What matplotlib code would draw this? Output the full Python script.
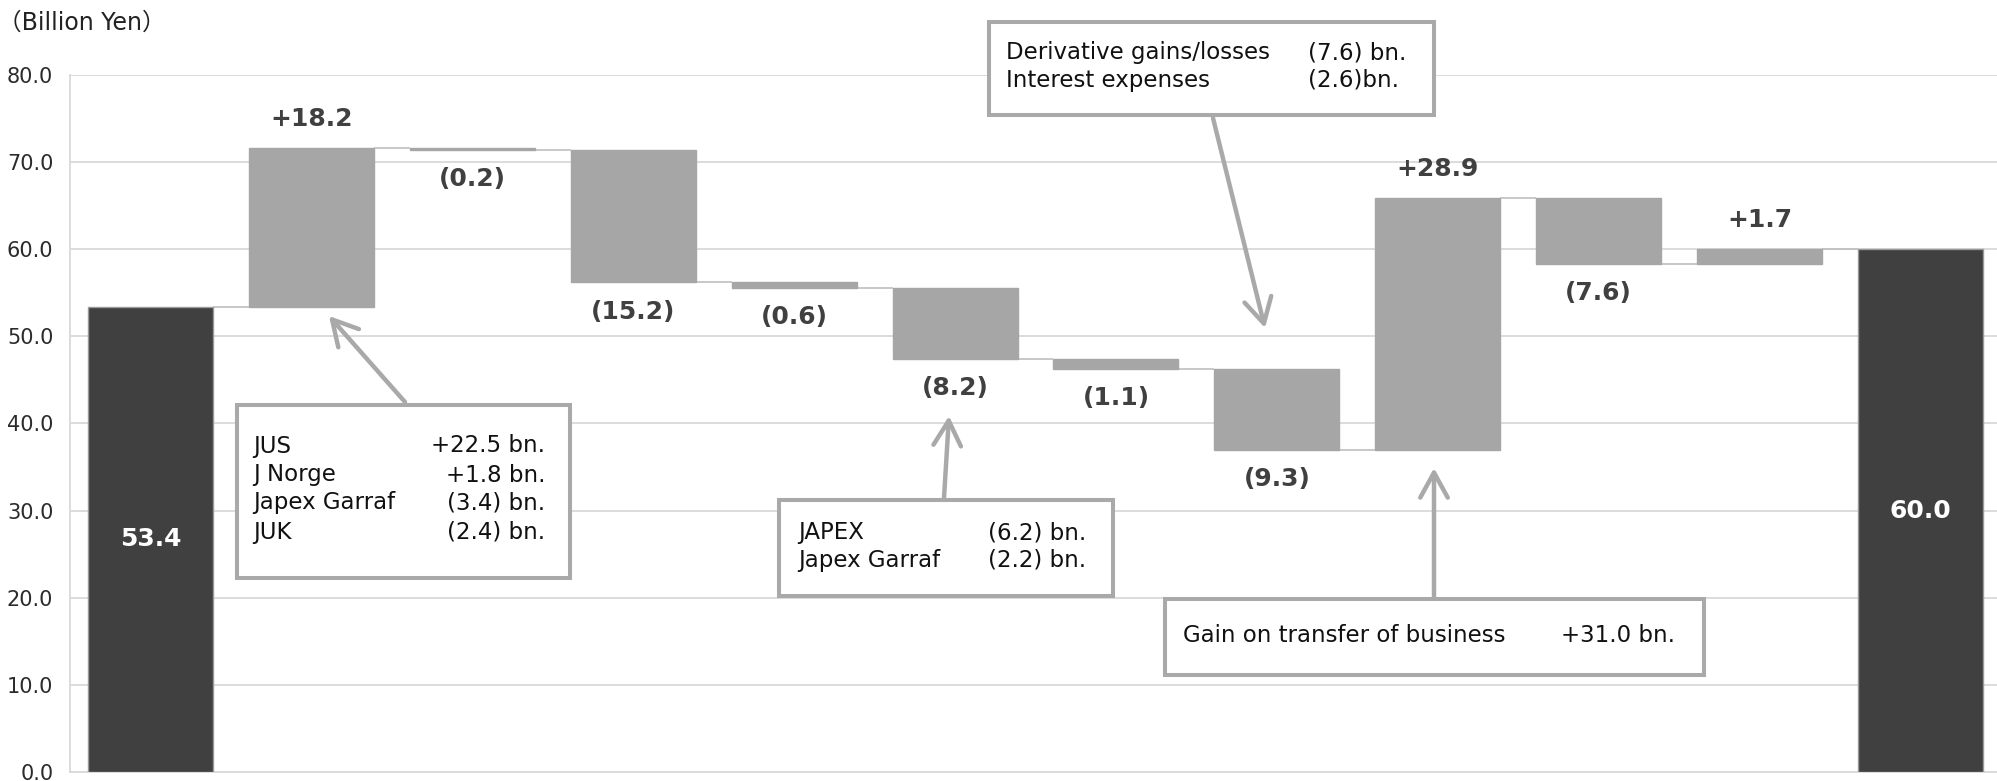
import numpy as np
import matplotlib.pyplot as plt
from matplotlib.patches import Rectangle

# ---- data -------------------------------------------------------------
start_value = 53.4
end_value = 60.0
changes = [18.2, -0.2, -15.2, -0.6, -8.2, -1.1, -9.3, 28.9, -7.6, 1.7]
y_ticks = [0, 10, 20, 30, 40, 50, 60, 70, 80]
unit_label = "（Billion Yen）"

box1_rows = [("JUS", "+22.5 bn."), ("J Norge", "+1.8 bn."),
             ("Japex Garraf", "(3.4) bn."), ("JUK", "(2.4) bn.")]
box2_rows = [("JAPEX", "(6.2) bn."), ("Japex Garraf", "(2.2) bn.")]
box3_rows = [("Derivative gains/losses", "(7.6) bn."),
             ("Interest expenses", "(2.6)bn.")]
box4_rows = [("Gain on transfer of business", "+31.0 bn.")]

# ---- styling ----------------------------------------------------------
W, H, DPI = 1997, 781, 100
DARK = "#404040"
STEP = "#a6a6a6"
GRID = "#d9d9d9"
CONNECT = "#bfbfbf"
BOX_EDGE = "#a9a9a9"
LABEL_COLOR = "#404040"

plt.rcParams["font.family"] = ["DejaVu Sans"]

fig = plt.figure(figsize=(W / DPI, H / DPI), dpi=DPI)
fig.patch.set_facecolor("white")


def fx(x):
    return x / W


def fy(y):
    return 1 - y / H


ax = fig.add_axes([fx(70), fy(772), (2001 - 70) / W, (772 - 75) / H])

# ---- waterfall geometry ----------------------------------------------
levels = np.concatenate([[start_value], start_value + np.cumsum(changes)])
n = len(changes) + 2
x = np.arange(n)
bar_w = 0.777

heights = [start_value] + [abs(c) for c in changes] + [end_value]
bottoms = [0.0] + [min(levels[i], levels[i + 1]) for i in range(len(changes))] + [0.0]
colors = [DARK] + [STEP] * len(changes) + [DARK]
edges = ["#9a9a9a"] + [STEP] * len(changes) + ["#9a9a9a"]

ax.bar(x, heights, bottom=bottoms, width=bar_w, color=colors,
       edgecolor=edges, linewidth=1.0, zorder=3)

# connectors between consecutive bars
tops_running = [start_value] + list(levels[1:]) + [end_value]
for i in range(n - 1):
    lvl = tops_running[i]
    ax.plot([x[i] + bar_w / 2, x[i + 1] - bar_w / 2], [lvl, lvl],
            color=CONNECT, lw=1.2, zorder=2, solid_capstyle="butt")

# value labels
for v, xi in zip([start_value, end_value], [x[0], x[-1]]):
    ax.text(xi, v / 2, f"{v:.1f}", ha="center", va="center", color="white",
            fontsize=18, fontweight="bold", zorder=4)

for i, c in enumerate(changes):
    xi = x[i + 1]
    if c >= 0:
        txt = f"+{c:.1f}"
        dy = 21
    else:
        txt = f"({abs(c):.1f})"
        dy = -21
    ax.annotate(txt, (xi, levels[i + 1]), xytext=(0, dy), textcoords="offset points",
                ha="center", va="center", fontsize=18, fontweight="bold",
                color=LABEL_COLOR, zorder=4)

# axes cosmetics
ax.set_xlim(-0.5, n - 0.5)
ax.set_ylim(0, 80)
ax.set_yticks(y_ticks)
ax.set_yticklabels([f"{t:.1f}" for t in y_ticks], fontsize=15, color="#2b2b2b")
ax.set_xticks([])
ax.tick_params(axis="y", length=0, pad=12)
ax.grid(axis="y", color=GRID, lw=1.3, zorder=0)
ax.set_axisbelow(True)
for side in ["top", "right"]:
    ax.spines[side].set_visible(False)
ax.spines["left"].set_color(GRID)
ax.spines["left"].set_linewidth(1.3)
ax.spines["bottom"].set_color(GRID)
ax.spines["bottom"].set_linewidth(1.3)

fig.text(fx(-2), fy(23), unit_label, ha="left", va="center", fontsize=17,
         color="#222222", family=["DejaVu Sans", "Noto Sans CJK JP"])

# ---- callout boxes ----------------------------------------------------


def callout(rect, rows, label_x, value_x, value_ha, rows_y, arrow_from, arrow_to):
    x0, y0, x1, y1 = rect
    fig.add_artist(Rectangle((fx(x0 + 2), fy(y1 - 2)), (x1 - x0 - 4) / W, (y1 - y0 - 4) / H,
                             transform=fig.transFigure, facecolor="white",
                             edgecolor=BOX_EDGE, lw=2.9, zorder=5))
    for (name, val), ry in zip(rows, rows_y):
        fig.text(fx(label_x), fy(ry), name, ha="left", va="center",
                 fontsize=16.5, color="#111111", zorder=6)
        fig.text(fx(value_x), fy(ry), val, ha=value_ha, va="center",
                 fontsize=16.5, color="#111111", zorder=6)
    ax.annotate("", xy=(fx(arrow_to[0]), fy(arrow_to[1])), xycoords="figure fraction",
                xytext=(fx(arrow_from[0]), fy(arrow_from[1])), textcoords="figure fraction",
                arrowprops=dict(arrowstyle="->,head_length=0.6,head_width=0.33",
                                color=BOX_EDGE, lw=3.2, mutation_scale=30,
                                shrinkA=0, shrinkB=0),
                zorder=6)


callout((235, 403, 572, 580), box1_rows, 253, 545, "right", [446, 475, 503, 532],
        (405, 402), (329, 316))
callout((777, 498, 1115, 598), box2_rows, 798, 988, "left", [533, 560],
        (944, 498), (949, 416))
callout((987, 20, 1436, 117), box3_rows, 1006, 1308, "left", [53, 80],
        (1213, 118), (1265, 328))
callout((1163, 597, 1706, 677), box4_rows, 1183, 1561, "left", [636],
        (1434, 597), (1434, 468))

fig.savefig("out.png", dpi=DPI, facecolor="white")
